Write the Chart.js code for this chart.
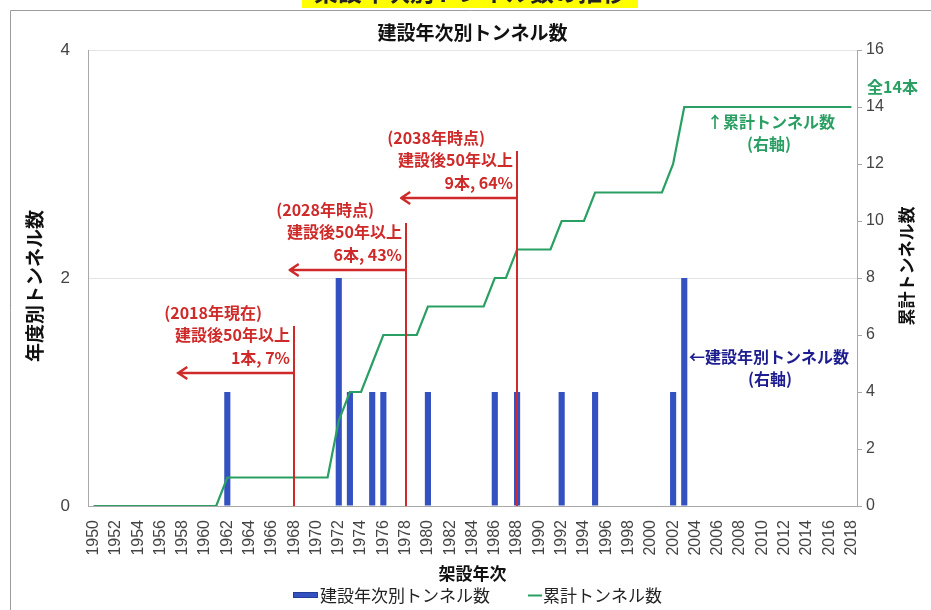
<!DOCTYPE html>
<html>
<head>
<meta charset="utf-8">
<script src="https://cdn.jsdelivr.net/npm/chart.js@4/dist/chart.umd.min.js"></script>
<style>
  html, body { margin: 0; padding: 0; background: #fff; }
  canvas { display: block; }
</style>
</head>
<body>
<canvas id="c" width="931" height="610"></canvas>
<script>
// Construction years (category axis)
const years = [
  '1950','1951','1952','1953','1954','1955','1956','1957','1958','1959',
  '1960','1961','1962','1963','1964','1965','1966','1967','1968','1969',
  '1970','1971','1972','1973','1974','1975','1976','1977','1978','1979',
  '1980','1981','1982','1983','1984','1985','1986','1987','1988','1989',
  '1990','1991','1992','1993','1994','1995','1996','1997','1998','1999',
  '2000','2001','2002','2003','2004','2005','2006','2007','2008','2009',
  '2010','2011','2012','2013','2014','2015','2016','2017','2018'
];

// Tunnels built in each year (left axis)
const tunnelsPerYear = [
  0,0,0,0,0,0,0,0,0,0,
  0,0,1,0,0,0,0,0,0,0,
  0,0,2,1,0,1,1,0,0,0,
  1,0,0,0,0,0,1,0,1,0,
  0,0,1,0,0,1,0,0,0,0,
  0,0,1,2,0,0,0,0,0,0,
  0,0,0,0,0,0,0,0,0
];

// Running total of tunnels (right axis)
const cumulativeTunnels = [
  0,0,0,0,0,0,0,0,0,0,
  0,0,1,1,1,1,1,1,1,1,
  1,1,3,4,4,5,6,6,6,6,
  7,7,7,7,7,7,8,8,9,9,
  9,9,10,10,10,11,11,11,11,11,
  11,11,12,14,14,14,14,14,14,14,
  14,14,14,14,14,14,14,14,14
];

// Axis tick values
const leftTicks = [0, 2, 4];
const rightTicks = [0, 2, 4, 6, 8, 10, 12, 14, 16];

// "50 years since construction" milestones
const milestoneYears = ['1968', '1978', '1988'];
const milestoneArrowLevels = [1.17, 2.07, 2.70];   // left-axis value of each arrow
const milestoneTexts = [
  ['(2018年現在)', '建設後50年以上', '1本, 7%'],
  ['(2028年時点)', '建設後50年以上', '6本, 43%'],
  ['(2038年時点)', '建設後50年以上', '9本, 64%']
];

const JP = '"Noto Sans CJK JP", "Noto Sans", sans-serif';
const NUM = '"Liberation Sans", Arial, sans-serif';
const GREEN = '#2a9f63';
const BLUE = '#3451c2';
const RED = '#cf2a2a';

function haloText(ctx, text, x, y, color) {
  ctx.lineJoin = 'round';
  ctx.lineWidth = 3;
  ctx.strokeStyle = '#fff';
  ctx.strokeText(text, x, y);
  ctx.fillStyle = color;
  ctx.fillText(text, x, y);
}

const milestonePlugin = {
  id: 'milestones',
  afterDatasetsDraw(chart) {
    const ctx = chart.ctx;
    const xs = chart.scales.x, yl = chart.scales.y;
    const bottom = chart.chartArea.bottom;
    ctx.save();
    milestoneYears.forEach((yr, i) => {
      const idx = years.indexOf(yr);
      const x = Math.round(xs.getPixelForValue(idx));
      const ay = Math.round(yl.getPixelForValue(milestoneArrowLevels[i]));
      const tipX = xs.getPixelForValue(idx - 10.4);
      ctx.strokeStyle = RED;
      ctx.lineWidth = 2;
      // vertical marker
      ctx.beginPath();
      ctx.moveTo(x, bottom);
      ctx.lineTo(x, ay - 47);
      ctx.stroke();
      // leftward arrow
      ctx.lineWidth = 2.5;
      ctx.beginPath();
      ctx.moveTo(x, ay);
      ctx.lineTo(tipX, ay);
      ctx.moveTo(tipX + 9, ay - 6);
      ctx.lineTo(tipX, ay);
      ctx.lineTo(tipX + 9, ay + 6);
      ctx.stroke();
      // labels
      ctx.font = 'bold 16px ' + JP;
      ctx.textAlign = 'right';
      ctx.textBaseline = 'middle';
      const t = milestoneTexts[i];
      haloText(ctx, t[0], x - 32, ay - 60, RED);
      haloText(ctx, t[1], x - 4, ay - 38, RED);
      haloText(ctx, t[2], x - 4, ay - 15, RED);
    });
    ctx.restore();
  },
  afterDraw(chart) {
    const ctx = chart.ctx;
    const area = chart.chartArea;
    const cx = (area.left + area.right) / 2;
    ctx.save();

    // outer frame
    ctx.strokeStyle = '#9c9c9c';
    ctx.lineWidth = 1;
    ctx.beginPath();
    ctx.moveTo(10.5, 610);
    ctx.lineTo(10.5, 10.5);
    ctx.lineTo(931, 10.5);
    ctx.stroke();

    // heading strip above the frame
    ctx.fillStyle = '#ffff00';
    ctx.fillRect(302, 0, 336, 8);
    ctx.save();
    ctx.beginPath();
    ctx.rect(302, 0, 336, 8);
    ctx.clip();
    ctx.fillStyle = '#222';
    ctx.font = 'bold 24px ' + JP;
    ctx.textAlign = 'center';
    ctx.textBaseline = 'middle';
    ctx.fillText('架設年次別トンネル数の推移', 470, -8);
    ctx.restore();

    // chart title
    ctx.fillStyle = '#111';
    ctx.font = 'bold 19px ' + JP;
    ctx.textAlign = 'center';
    ctx.textBaseline = 'middle';
    ctx.fillText('建設年次別トンネル数', cx, 33);

    // axis titles
    ctx.font = 'bold 19px ' + JP;
    ctx.save();
    ctx.translate(35, 286);
    ctx.rotate(-Math.PI / 2);
    ctx.fillText('年度別トンネル数', 0, 0);
    ctx.restore();

    ctx.font = 'bold 17px ' + JP;
    ctx.save();
    ctx.translate(907, 266);
    ctx.rotate(-Math.PI / 2);
    ctx.fillText('累計トンネル数', 0, 0);
    ctx.restore();

    ctx.font = 'bold 17px ' + JP;
    ctx.fillText('架設年次', cx, 574);

    // total note
    ctx.font = 'bold 16px ' + JP;
    ctx.textAlign = 'left';
    ctx.fillStyle = GREEN;
    ctx.fillText('全14本', 867, 87);

    // series notes
    ctx.textAlign = 'center';
    ctx.font = 'bold 16px ' + JP;
    haloText(ctx, '↑累計トンネル数', 771, 122, GREEN);
    haloText(ctx, '(右軸)', 769, 144, GREEN);
    haloText(ctx, '←建設年別トンネル数', 769, 357, '#1d1d8f');
    haloText(ctx, '(右軸)', 770, 379, '#1d1d8f');

    // legend
    ctx.fillStyle = BLUE;
    ctx.fillRect(293, 592, 25, 6);
    ctx.strokeStyle = '#243c9a';
    ctx.lineWidth = 1;
    ctx.strokeRect(293.5, 592.5, 24, 5);
    ctx.fillStyle = '#222';
    ctx.font = '17px ' + JP;
    ctx.textAlign = 'left';
    ctx.textBaseline = 'middle';
    ctx.fillText('建設年次別トンネル数', 320, 596);
    ctx.strokeStyle = GREEN;
    ctx.lineWidth = 2;
    ctx.beginPath();
    ctx.moveTo(528, 595.5);
    ctx.lineTo(542, 595.5);
    ctx.stroke();
    ctx.fillText('累計トンネル数', 543, 596);

    ctx.restore();
  }
};

new Chart(document.getElementById('c'), {
  type: 'bar',
  data: {
    labels: years,
    datasets: [
      {
        type: 'line',
        label: '累計トンネル数',
        data: cumulativeTunnels,
        yAxisID: 'y1',
        borderColor: GREEN,
        borderWidth: 2.2,
        pointRadius: 0,
        tension: 0,
        fill: false,
        order: 0
      },
      {
        type: 'bar',
        label: '建設年次別トンネル数',
        data: tunnelsPerYear,
        yAxisID: 'y',
        backgroundColor: BLUE,
        borderWidth: 0,
        barPercentage: 0.55,
        categoryPercentage: 1.0,
        order: 1
      }
    ]
  },
  options: {
    responsive: false,
    animation: false,
    layout: { padding: { top: 50, left: 0, right: 0, bottom: 0 } },
    plugins: {
      legend: { display: false },
      title: { display: false },
      tooltip: { enabled: false }
    },
    scales: {
      x: {
        offset: true,
        grid: { display: false },
        border: { display: true, color: '#a8a8a8' },
        ticks: {
          autoSkip: false,
          minRotation: 90,
          maxRotation: 90,
          padding: 6,
          color: '#444',
          font: { family: NUM, size: 16 },
          callback: (v, i) => (i % 2 === 0 ? years[i] : '')
        },
        afterFit: s => { s.height = 104; }
      },
      y: {
        position: 'left',
        min: 0,
        max: 4,
        afterBuildTicks: s => { s.ticks = leftTicks.map(v => ({ value: v })); },
        grid: { color: '#e4e4e4', drawTicks: false },
        border: { display: true, color: '#a8a8a8' },
        ticks: {
          padding: 18,
          color: '#444',
          font: { family: NUM, size: 17 }
        },
        afterFit: s => { s.width = 88; }
      },
      y1: {
        position: 'right',
        min: 0,
        max: 16,
        afterBuildTicks: s => { s.ticks = rightTicks.map(v => ({ value: v })); },
        grid: { drawOnChartArea: false, drawTicks: true, tickLength: 5, color: '#a8a8a8' },
        border: { display: true, color: '#a8a8a8' },
        ticks: {
          padding: 4,
          color: '#444',
          font: { family: NUM, size: 16 }
        },
        afterFit: s => { s.width = 74; }
      }
    }
  },
  plugins: [milestonePlugin]
});
</script>
</body>
</html>
